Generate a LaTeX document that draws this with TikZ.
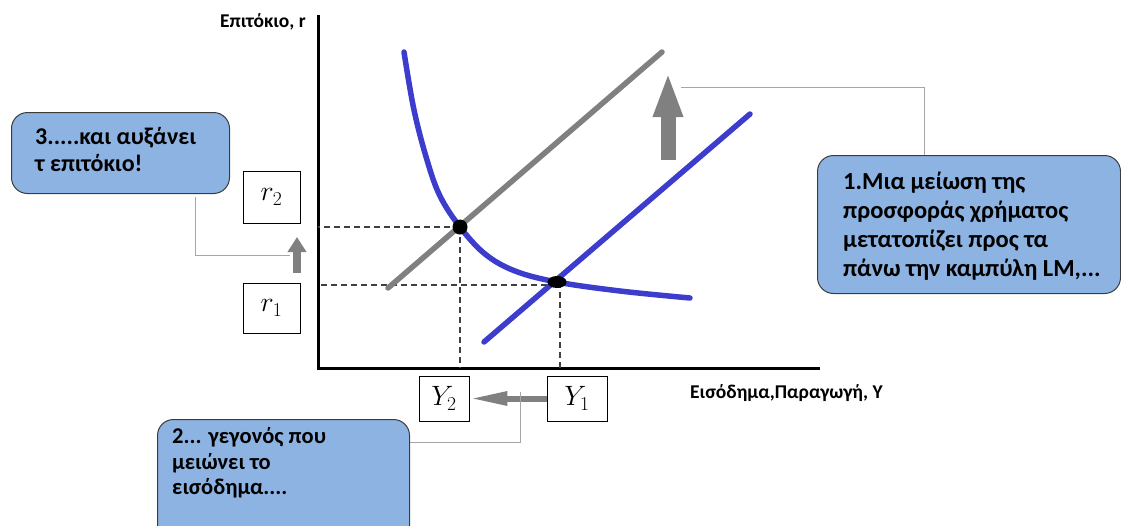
\documentclass[tikz,border=0pt]{standalone}
\usepackage{fix-cm}
\usepackage{fontspec}
\setmainfont{Carlito}
\usetikzlibrary{arrows.meta}
\definecolor{isblue}{RGB}{60,60,205}
\definecolor{lmgray}{RGB}{128,128,128}
\definecolor{callfill}{RGB}{141,179,226}
\definecolor{callline}{RGB}{60,60,60}
\begin{document}
\begin{tikzpicture}[x=1pt,y=-1pt,
  callbox/.style={draw=callline, line width=1pt, fill=callfill, rounded corners=16pt, inner sep=0, anchor=north west},
  calltext/.style={font=\bfseries\fontsize{24.5}{29}\selectfont, align=left, anchor=west, inner sep=0},
  valbox/.style={draw, line width=0.8pt, inner sep=0, font=\fontsize{28}{28}\selectfont},
  axislabel/.style={font=\bfseries\fontsize{19.5}{19.5}\selectfont, inner sep=0},
  guide/.style={draw=black!75, line width=1.3pt, dash pattern=on 6pt off 4pt},
  leader/.style={draw=black!35, line width=1pt},
  curve/.style={line width=5.5pt, line cap=round}
]
\useasboundingbox (0,0) rectangle (1121,525);

% axes
\coordinate (O) at (318,368);
\coordinate (ytop) at (318,15);
\coordinate (xend) at (820,368);
\draw[line width=3pt] (ytop) -- (O) -- (xend);
\node[axislabel, anchor=east] (ylab) at (306,22) {Επιτόκιο, r};
\node[axislabel, anchor=west] (xlab) at (690,393) {Εισόδημα,Παραγωγή, Y};

% equilibrium points
\coordinate (e2) at (460,227);
\coordinate (e1) at (557,282);

% guides
\draw[guide] (e2) -- (e2 -| O);
\draw[guide] (557,285) -- (318,285);
\draw[guide] (e2) -- (e2 |- O);
\draw[guide] (560,282) -- (560,368);

% curves
\coordinate (lm2a) at (388,288);
\coordinate (lm2b) at (662,52);
\coordinate (lm1a) at (484,342);
\coordinate (lm1b) at (750,114);
\draw[curve, lmgray] (lm2a) -- (lm2b);
\draw[curve, isblue] (lm1a) -- (lm1b);
\draw[curve, isblue] plot[smooth, tension=0.6] coordinates {(404,52) (414,110) (427,160) (440,196) (460,227) (485,254) (515,271) (557,282) (620,291) (690,298)};

\fill (e2) circle[radius=7.5];
\fill (e1) ellipse[x radius=9.5, y radius=6];

% value boxes
\node[valbox, minimum width=57, minimum height=52] (r2) at (271.5,197) {$r_2$};
\node[valbox, minimum width=57, minimum height=50] (r1) at (271.5,308) {$r_1$};
\node[valbox, minimum width=50, minimum height=45] (Y2) at (444,398.5) {$Y_2$};
\node[valbox, minimum width=60, minimum height=45] (Y1) at (577,398.5) {$Y_1$};

% block arrows
\coordinate (a1s) at (668,160);
\coordinate (a1e) at (668,72);
\draw[lmgray, line width=15pt, -{Triangle[width=27pt, length=45pt]}] (a1s) -- (a1e);
\coordinate (a3s) at (297,273);
\coordinate (a3e) at (297,237);
\draw[lmgray, line width=8.5pt, -{Triangle[width=18pt, length=15pt]}] (a3s) -- (a3e);
\draw[lmgray, line width=6pt, -{Triangle[width=13pt, length=38pt]}] (Y1.west) -- (Y2.east);

% callouts
\node[callbox, minimum width=303, minimum height=138] (c1) at (817,155) {};
\node[calltext] (t1) at (843,226) {1.Μια μείωση της\\προσφοράς χρήματος\\μετατοπίζει προς τα\\πάνω την καμπύλη LM,...};
\node[callbox, minimum width=218, minimum height=81] (c3) at (11,112) {};
\node[calltext, font=\bfseries\fontsize{24}{27}\selectfont] (t3) at (35,150) {3.....και αυξάνει\\τ επιτόκιο!};
\node[callbox, minimum width=252, minimum height=130] (c2) at (157,419) {};
\node[calltext, font=\bfseries\fontsize{22.5}{25.5}\selectfont] (t2) at (172,463) {2... γεγονός που\\μειώνει το\\εισόδημα....};

% leaders
\coordinate (k1) at (924,87);
\coordinate (k1e) at (681,87);
\draw[leader] (c1.north -| k1) -- (k1) -- (k1e);
\coordinate (k3) at (195,255);
\coordinate (k3e) at (290,255);
\coordinate (k3s) at (195,197);
\draw[leader] (k3s) -- (k3) -- (k3e);
\coordinate (k2) at (520,442);
\coordinate (k2s) at (520,392);
\draw[leader] (k2s) -- (k2) -- (k2 -| c2.east);
\end{tikzpicture}
\end{document}
